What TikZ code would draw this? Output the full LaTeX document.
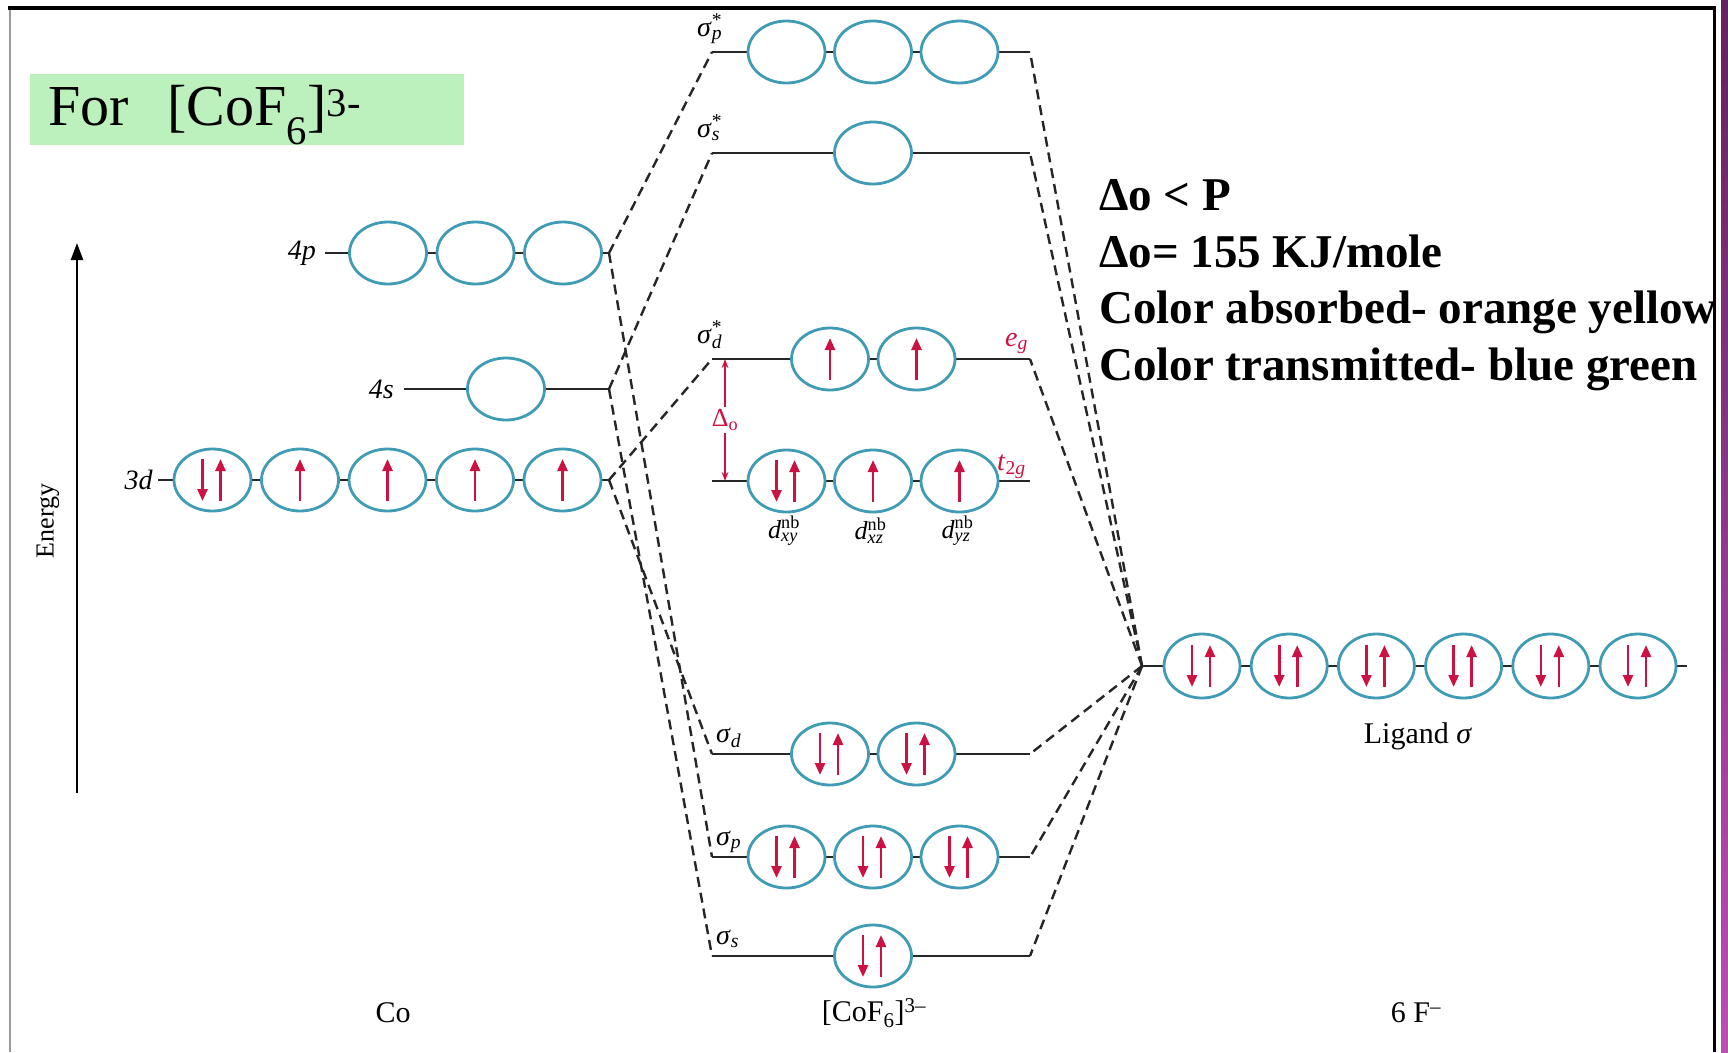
\documentclass[tikz,border=0pt]{standalone}
\usepackage{fontspec}
\setmainfont{Liberation Serif}
\usetikzlibrary{arrows.meta,positioning,shapes.geometric}

\definecolor{orbline}{RGB}{64,156,180}
\definecolor{spinred}{RGB}{204,18,66}
\definecolor{titlegreen}{RGB}{188,240,188}
\definecolor{bartop}{RGB}{96,36,96}
\definecolor{barbot}{RGB}{184,80,176}

% electrons drawn in an orbital node
\newcommand\elup[1]{\draw[spin] ([yshift=-21pt]#1.center) -- ([yshift=21pt]#1.center);}
\newcommand\elpair[1]{%
  \draw[spin] ([xshift=-10pt,yshift=21pt]#1.center) -- ([xshift=-10pt,yshift=-21pt]#1.center);
  \draw[spin] ([xshift=8pt,yshift=-21pt]#1.center) -- ([xshift=8pt,yshift=21pt]#1.center);}
% superscript over subscript, in text
\newcommand\supsub[2]{\rlap{\textsuperscript{#1}}\textsubscript{#2}}

\begin{document}
\begin{tikzpicture}[x=1pt, y=-1pt,
  orb/.style={ellipse, draw=orbline, line width=2.8pt, fill=white, outer sep=0pt,
              minimum width=77pt, minimum height=62pt, inner sep=0pt},
  lvl/.style={line width=2.6pt, black!85},
  link/.style={line width=2.4pt, black!85, dash pattern=on 10pt off 6pt},
  spin/.style={-{Triangle[length=12pt,width=10pt]}, line width=2.6pt, spinred},
  tag/.style={font=\fontsize{28}{30}\selectfont, inner sep=0pt},
  mo/.style={tag, anchor=base west},
  egtag/.style={tag, anchor=base west, text=spinred},
  note/.style={anchor=base west, inner sep=0pt, font=\fontsize{47}{56}\selectfont\bfseries}]

  \useasboundingbox (0,0) rectangle (1728,1052);
  \fill[white] (0,0) rectangle (1728,1052);

  % slide frame
  \draw[line width=1.5pt, black!40] (10,8) -- (10,1052);
  \draw[line width=3.5pt] (8,8) -- (1716,8);
  \draw[line width=3pt] (1714,8) -- (1714,1052);
  \shade[top color=bartop, bottom color=barbot] (1721,0) rectangle (1728,1052);

  \node[fill=titlegreen, anchor=north west, minimum width=434pt, minimum height=71pt,
        inner xsep=18pt, text width=398pt, align=left, text depth=8pt,
        font=\fontsize{58}{60}\selectfont] (title) at (30,74)
        {For\ \ [CoF\textsubscript{6}]\textsuperscript{3-}};

  % energy axis
  \coordinate (e0) at (77,793);
  \coordinate (e1) at (77,243);
  \draw[line width=2.4pt, -{Triangle[length=17pt,width=12pt]}] (e0) -- (e1);
  \node[rotate=90, font=\fontsize{26}{28}\selectfont] (energy) at (48,521) {Energy};

  % Co: 4p, 4s, 3d
  \coordinate (p-in) at (325,253);
  \coordinate (jp) at (609,253);
  \coordinate (s-in) at (404,389);
  \coordinate (js) at (609,389);
  \coordinate (d-in) at (158,480);
  \coordinate (jd) at (609,480);

  % [CoF6]3- levels
  \coordinate (spsL) at (712,52);  \coordinate (spsR) at (1030,52);
  \coordinate (sssL) at (712,153); \coordinate (sssR) at (1030,153);
  \coordinate (sdsL) at (712,359); \coordinate (sdsR) at (1030,359);
  \coordinate (nbL)  at (712,481); \coordinate (nbR)  at (1030,481);
  \coordinate (sdL)  at (712,754); \coordinate (sdR)  at (1030,754);
  \coordinate (spL)  at (712,857); \coordinate (spR)  at (1030,857);
  \coordinate (ssL)  at (712,956); \coordinate (ssR)  at (1030,956);

  % ligand junction
  \coordinate (jl) at (1142,666);
  \coordinate (l-out) at (1687,666);

  % correlation lines
  \draw[link] (jp) -- (spsL);
  \draw[link] (jp) -- (spL);
  \draw[link] (js) -- (sssL);
  \draw[link] (js) -- (ssL);
  \draw[link] (jd) -- (sdsL);
  \draw[link] (jd) -- (sdL);
  \draw[link] (jl) -- (spsR);
  \draw[link] (jl) -- (sssR);
  \draw[link] (jl) -- (sdsR);
  \draw[link] (jl) -- (sdR);
  \draw[link] (jl) -- (spR);
  \draw[link] (jl) -- (ssR);

  \draw[lvl] (p-in) -- (jp);
  \draw[lvl] (s-in) -- (js);
  \draw[lvl] (d-in) -- (jd);
  \draw[lvl] (spsL) -- (spsR);
  \draw[lvl] (sssL) -- (sssR);
  \draw[lvl] (sdsL) -- (sdsR);
  \draw[lvl] (nbL) -- (nbR);
  \draw[lvl] (sdL) -- (sdR);
  \draw[lvl] (spL) -- (spR);
  \draw[lvl] (ssL) -- (ssR);
  \draw[lvl] (jl) -- (l-out);

  \node[tag, left=9pt of p-in] (l4p) {\textit{4p}};
  \node[tag, left=10pt of s-in] (l4s) {\textit{4s}};
  \node[tag, left=5pt of d-in] (l3d) {\textit{3d}};

  \node[orb] (p1) at (388,253) {};
  \node[orb, right=10.5pt of p1] (p2) {};
  \node[orb, right=10.5pt of p2] (p3) {};
  \node[orb] (s1) at (506,389) {};
  \node[orb] (d1) at (212.5,480) {};
  \node[orb, right=10.5pt of d1] (d2) {};
  \node[orb, right=10.5pt of d2] (d3) {};
  \node[orb, right=10.5pt of d3] (d4) {};
  \node[orb, right=10.5pt of d4] (d5) {};
  \elpair{d1} \elup{d2} \elup{d3} \elup{d4} \elup{d5}

  % molecular orbitals
  \node[orb] (asp1) at (786.5,52) {};
  \node[orb, right=9.5pt of asp1] (asp2) {};
  \node[orb, right=9.5pt of asp2] (asp3) {};
  \node[orb] (ass) at (873,153) {};
  \node[orb] (asd1) at (830,359) {};
  \node[orb, right=9.5pt of asd1] (asd2) {};
  \node[orb] (nb1) at (786.5,481) {};
  \node[orb, right=9.5pt of nb1] (nb2) {};
  \node[orb, right=9.5pt of nb2] (nb3) {};
  \node[orb] (bsd1) at (830,754) {};
  \node[orb, right=9.5pt of bsd1] (bsd2) {};
  \node[orb] (bsp1) at (786.5,857) {};
  \node[orb, right=9.5pt of bsp1] (bsp2) {};
  \node[orb, right=9.5pt of bsp2] (bsp3) {};
  \node[orb] (bss) at (873,956) {};
  \elup{asd1} \elup{asd2}
  \elpair{nb1} \elup{nb2} \elup{nb3}
  \elpair{bsd1} \elpair{bsd2}
  \elpair{bsp1} \elpair{bsp2} \elpair{bsp3}
  \elpair{bss}

  \node[mo] at (697,36) {\textit{σ}\supsub{*}{\textit{p}}};
  \node[mo] at (697,137) {\textit{σ}\supsub{*}{\textit{s}}};
  \node[mo] at (697,343) {\textit{σ}\supsub{*}{\textit{d}}};
  \node[mo] at (716,742) {\textit{σ}\textsubscript{\textit{d}}};
  \node[mo] at (716,845) {\textit{σ}\textsubscript{\textit{p}}};
  \node[mo] at (716,944) {\textit{σ}\textsubscript{\textit{s}}};
  \node[egtag] at (1005,346) {\textit{e}\textsubscript{\textit{g}}};
  \node[egtag] at (997,470) {\textit{t}\textsubscript{2\textit{g}}};
  \node[tag, font=\fontsize{26}{28}\selectfont] at (783,531) {\textit{d}\supsub{nb}{\textit{xy}}};
  \node[tag, font=\fontsize{26}{28}\selectfont] at (869,531) {\textit{d}\supsub{nb}{\textit{xz}}};
  \node[tag, font=\fontsize{26}{28}\selectfont] at (956,531) {\textit{d}\supsub{nb}{\textit{yz}}};

  % splitting
  \coordinate (dtop) at (725,359);
  \coordinate (dbot) at (725,481);
  \draw[spinred, line width=1.4pt, {Stealth[length=9pt]}-{Stealth[length=9pt]}] (dtop) -- (dbot)
    node[midway, fill=white, inner sep=2pt, text=spinred, font=\fontsize{26}{28}\selectfont] (dlt) {Δ\textsubscript{o}};

  % 6 F- ligand orbitals
  \node[orb, minimum width=76pt, minimum height=64pt] (L1) at (1202,666) {};
  \node[orb, minimum width=76pt, minimum height=64pt, right=11.2pt of L1] (L2) {};
  \node[orb, minimum width=76pt, minimum height=64pt, right=11.2pt of L2] (L3) {};
  \node[orb, minimum width=76pt, minimum height=64pt, right=11.2pt of L3] (L4) {};
  \node[orb, minimum width=76pt, minimum height=64pt, right=11.2pt of L4] (L5) {};
  \node[orb, minimum width=76pt, minimum height=64pt, right=11.2pt of L5] (L6) {};
  \elpair{L1} \elpair{L2} \elpair{L3} \elpair{L4} \elpair{L5} \elpair{L6}
  \node[tag, font=\fontsize{30}{32}\selectfont] (lig) at (1418,736) {Ligand \textit{σ}};

  \node[tag, font=\fontsize{30}{32}\selectfont] (co) at (393,1013) {Co};
  \node[tag, font=\fontsize{30}{32}\selectfont] (cplx) at (874,1013) {[CoF\textsubscript{6}]\textsuperscript{3–}};
  \node[tag, font=\fontsize{30}{32}\selectfont] (fl) at (1416,1013) {6 F\textsuperscript{–}};

  \node[note] (n1) at (1099,210) {Δo < P};
  \node[note] (n2) at (1099,267) {Δo= 155 KJ/mole};
  \node[note] (n3) at (1099,323) {Color absorbed- orange yellow};
  \node[note] (n4) at (1099,380) {Color transmitted- blue green};
\end{tikzpicture}
\end{document}
